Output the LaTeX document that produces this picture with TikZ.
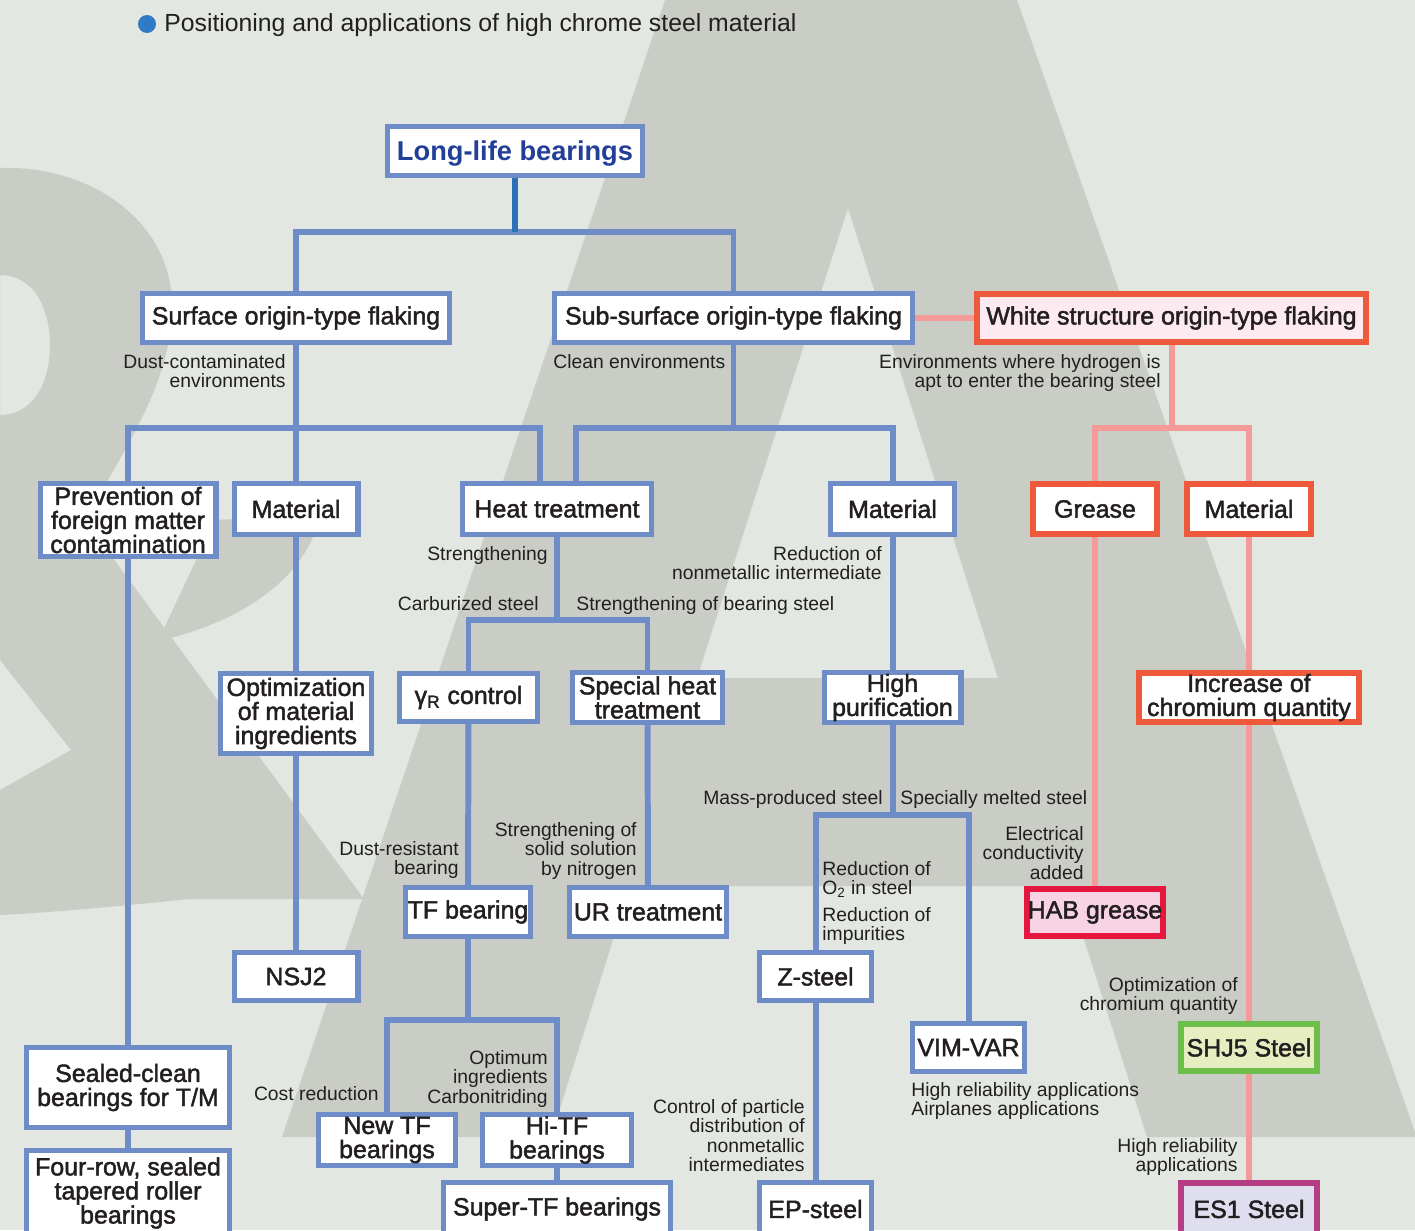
\documentclass[tikz,border=0pt]{standalone}
\usepackage{fontspec}
\setmainfont{Liberation Sans}
\newfontfamily\medfont{Liberation Sans}[FakeBold=1.8]
\usepackage{tikz}
\usetikzlibrary{positioning}

\definecolor{bglight}{HTML}{E2E7E1}
\definecolor{bgdark}{HTML}{C9CDC6}
\definecolor{ink}{HTML}{231F20}
\definecolor{lineblue}{HTML}{6E8CC8}
\definecolor{stemblue}{HTML}{2C71B7}
\definecolor{titleblue}{HTML}{223F98}
\definecolor{dotblue}{HTML}{2F7BC4}
\definecolor{boxred}{HTML}{EE583B}
\definecolor{linepink}{HTML}{F49A99}
\definecolor{fillpink}{HTML}{FDE9F0}
\definecolor{habred}{HTML}{E5173F}
\definecolor{habfill}{HTML}{F8D3E3}
\definecolor{shjgreen}{HTML}{6DBE4B}
\definecolor{shjfill}{HTML}{E6EEC1}
\definecolor{esmag}{HTML}{B53D84}
\definecolor{esfill}{HTML}{DEDEEF}

\newcommand{\boxfont}{\medfont\fontsize{14.2pt}{13.7pt}\selectfont}
\newcommand{\lblfont}{\fontsize{11pt}{11.1pt}\selectfont}

\pgfdeclarelayer{back}
\pgfsetlayers{back,main}

\begin{document}
\begin{tikzpicture}[x=0.02cm, y=-0.02cm,
		bx/.style={draw=lineblue, fill=white, line width=3pt, inner sep=0pt, align=center, font=\boxfont, text=ink},
		rbx/.style={bx, draw=boxred, line width=3.3pt},
		sz/.style 2 args={minimum width=#1*0.02cm-3pt, minimum height=#2*0.02cm-3pt},
		lbl/.style={font=\lblfont, text=ink, inner sep=0pt, align=right, anchor=north east},
		lbll/.style={lbl, align=left, anchor=north west},
		conn/.style={draw=lineblue, line width=3.4pt},
		pconn/.style={draw=linepink, line width=3.4pt}]
		%\draw[thin, gray!25] (0,0) grid[step=50] (1415,1230);
		\useasboundingbox (0,0) rectangle (1415,1230);
		\begin{pgfonlayer}{back}
		\fill[bglight] (0,0) rectangle (1415,1230);
		\fill[bgdark, even odd rule] (665,0) -- (1017,0) -- (1415,1132) -- (1415,1137) -- (282,1137) -- cycle
			(848,208) -- (998,678) -- (697,678) -- cycle
			(630,886) -- (1067,886) -- (1147,1137) -- (551,1137) -- cycle;
		\fill[bgdark, even odd rule] (0,168) .. controls (95,165) and (172,225) .. (172,305) .. controls (172,380) and (130,440) .. (85,520) -- (364,899) -- (190,899) .. controls (130,905) and (60,912) .. (0,915) -- (0,790) -- (71,750) -- (0,660) -- cycle
			(0,275) .. controls (35,275) and (50,310) .. (50,345) .. controls (50,380) and (35,415) .. (0,415) -- cycle;
		\fill[bgdark] (215,520) -- (320,515) .. controls (305,585) and (230,625) .. (158,641) -- cycle;
		\end{pgfonlayer}
		\node[circle, fill=dotblue, inner sep=0pt, minimum size=0.36cm] (dot) at (147,24) {};
		\node[font=\fontsize{14.1pt}{16pt}\selectfont, text=ink, anchor=base west, inner sep=0pt] (title) at (164,32) {Positioning and applications of high chrome steel material};
		\node[bx, sz={260}{54}, font=\bfseries\fontsize{15.5pt}{16pt}\selectfont, text=titleblue, text depth=0pt] (long) at (515,151) {Long-life bearings};
		\node[bx, sz={312}{54}] (surf) at (296,318) {Surface origin-type flaking};
		\node[bx, sz={363}{54}] (sub) at (733.5,318) {Sub-surface origin-type flaking};
		\node[rbx, fill=fillpink, sz={395}{54}] (white) at (1171.5,318) {White structure origin-type flaking};
		\node[bx, sz={181}{78}] (prev) at (128,520) {Prevention of\\foreign matter\\contamination};
		\node[bx, sz={129}{56}] (mat1) at (296,509) {Material};
		\node[bx, sz={194}{56}] (heat) at (557,509) {Heat treatment};
		\node[bx, sz={129}{56}] (mat2) at (892.5,509) {Material};
		\node[rbx, sz={130}{56}] (grease) at (1095,509) {Grease};
		\node[rbx, sz={130}{56}] (mat3) at (1249,509) {Material};
		\node[bx, sz={156}{85}] (opt) at (296,713.5) {Optimization\\of material\\ingredients};
		\node[bx, sz={143}{53}] (gamma) at (468.5,697.5) {γ\textsubscript{R} control};
		\node[bx, sz={155}{55}] (special) at (647.5,697.5) {Special heat\\treatment};
		\node[bx, sz={142}{55}] (hp) at (892.5,697.5) {High\\purification};
		\node[rbx, sz={226}{55}] (incr) at (1249,697.5) {Increase of\\chromium quantity};
		\node[bx, sz={130}{54}] (tf) at (468,912) {TF bearing};
		\node[bx, sz={162}{54}] (ur) at (648,912) {UR treatment};
		\node[rbx, draw=habred, fill=habfill, sz={142}{53}] (hab) at (1095,912.5) {HAB grease};
		\node[bx, sz={129}{53}] (nsj) at (296,976.5) {NSJ2};
		\node[bx, sz={117}{53}] (zst) at (815.5,976.5) {Z-steel};
		\node[bx, sz={117}{53}] (vim) at (968.5,1047.5) {VIM-VAR};
		\node[rbx, draw=shjgreen, fill=shjfill, sz={142}{53}] (shj) at (1249,1047.5) {SHJ5 Steel};
		\node[bx, sz={208}{85}] (sealed) at (128,1087.5) {Sealed-clean\\bearings for T/M};
		\node[bx, sz={208}{90}] (four) at (128,1193) {Four-row, sealed\\tapered roller\\bearings};
		\node[bx, sz={142}{56}] (newtf) at (387,1140) {New TF\\bearings};
		\node[bx, sz={154}{56}] (hitf) at (557,1140) {Hi-TF\\bearings};
		\node[bx, sz={232}{58}] (super) at (557,1209) {Super-TF bearings};
		\node[bx, sz={117}{58}] (ep) at (815.5,1209) {EP-steel};
		\node[rbx, draw=esmag, fill=esfill, sz={142}{58}] (es) at (1249,1209) {ES1 Steel};
		\node[lbl] (dust) at (286,354) {Dust-contaminated\\environments};
		\node[lbll] (clean) at (553,354) {Clean environments};
		\node[lbl] (hydro) at (1161,354) {Environments where hydrogen is\\apt to enter the bearing steel};
		\node[lbl] (streng) at (548,546) {Strengthening};
		\node[lbl] (nonmet) at (882,546) {Reduction of\\nonmetallic intermediate};
		\node[lbl] (carb) at (539,596) {Carburized steel};
		\node[lbll] (strbear) at (576,596) {Strengthening of bearing steel};
		\node[lbl] (mass) at (883,790) {Mass-produced steel};
		\node[lbll] (melt) at (900,790) {Specially melted steel};
		\node[lbl] (dustres) at (459,841) {Dust-resistant\\bearing};
		\node[lbl] (solid) at (637,822) {Strengthening of\\solid solution\\by nitrogen};
		\node[lbll] (oxy) at (822,861) {Reduction of\\O\textsubscript{2} in steel};
		\node[lbll] (impur) at (822,907) {Reduction of\\impurities};
		\node[lbl] (elec) at (1084,826) {Electrical\\conductivity\\added};
		\node[lbl] (optcr) at (1238,977) {Optimization of\\chromium quantity};
		\node[lbl] (cost) at (379,1086) {Cost reduction};
		\node[lbl] (optim) at (548,1050) {Optimum\\ingredients\\Carbonitriding};
		\node[lbl] (ctrl) at (805,1099) {Control of particle\\distribution of\\nonmetallic\\intermediates};
		\node[lbll] (hirel) at (911,1082) {High reliability applications\\Airplanes applications};
		\node[lbl] (hirel2) at (1238,1138) {High reliability\\applications};
		\begin{pgfonlayer}{back}
		\coordinate (jtop) at (515,232);
		\coordinate (jsurf) at (296,428);
		\coordinate (jsub) at (733.5,428);
		\coordinate (jwhite) at (1171.5,428);
		\coordinate (jheat) at (557,620);
		\coordinate (jtf) at (468,1020);
		\coordinate (jhp) at (892.5,815);
		\draw[conn] (surf) |- (jtop) -| (sub);
		\draw[conn, draw=stemblue] (long) -- (jtop);
		\draw[conn] (surf) -- (jsurf);
		\draw[conn] (prev) |- (jsurf) -| ([xshift=-0.34cm]heat.north);
		\draw[conn] (jsurf) -- (mat1);
		\draw[conn] (sub) -- (jsub);
		\draw[conn] ([xshift=0.38cm]heat.north) |- (jsub) -| (mat2);
		\draw[pconn] (sub) -- (white);
		\draw[pconn] (white) -- (jwhite);
		\draw[pconn] (grease) |- (jwhite) -| (mat3);
		\draw[conn] (prev) -- (sealed);
		\draw[conn] (sealed) -- (four);
		\draw[conn] (mat1) -- (opt);
		\draw[conn] (opt) -- (nsj);
		\draw[conn] (heat) -- (jheat);
		\draw[conn] (gamma) |- (jheat) -| (special);
		\draw[conn] (gamma) -- (tf);
		\draw[conn] (special) -- (ur);
		\draw[conn] (tf) -- (jtf);
		\draw[conn] (newtf) |- (jtf) -| (hitf);
		\draw[conn] (hitf) -- (super);
		\draw[conn] (mat2) -- (hp);
		\draw[conn] (hp) -- (jhp);
		\draw[conn] (zst) |- (jhp) -| (vim);
		\draw[conn] (zst) -- (ep);
		\draw[pconn] (grease) -- (hab);
		\draw[pconn] (mat3) -- (incr);
		\draw[pconn] (incr) -- (shj);
		\draw[pconn] (shj) -- (es);
		\end{pgfonlayer}
	\end{tikzpicture}
\end{document}
